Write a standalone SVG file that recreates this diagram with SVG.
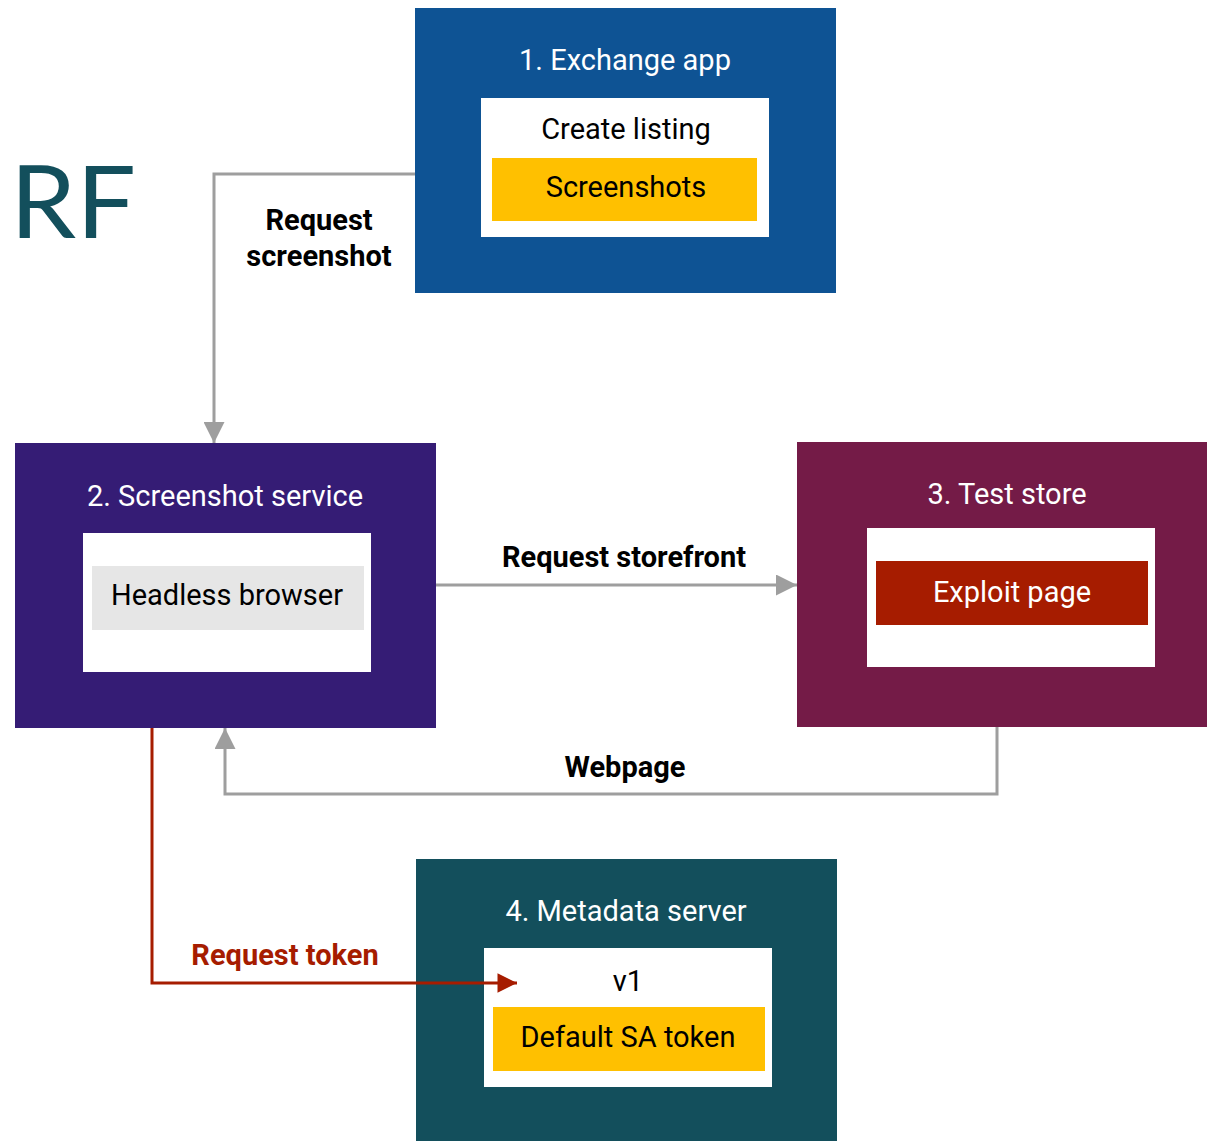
<svg xmlns="http://www.w3.org/2000/svg" width="1207" height="1141" viewBox="0 0 1207 1141">
  <style>
    text { font-family: Roboto, "Liberation Sans", sans-serif; text-anchor: middle; }
    .title { font-size: 29px; fill: #ffffff; }
    .item { font-size: 29px; fill: #000000; }
    .lbl { font-size: 29px; font-weight: bold; fill: #000000; }
    .red-lbl { font-size: 29px; font-weight: bold; fill: #a61c00; }
    .inner { fill: #ffffff; }
    .yellow { fill: #ffc000; }
    .wire { fill: none; stroke: #9e9e9e; stroke-width: 3; }
    .wire-red { fill: none; stroke: #a61c00; stroke-width: 3; }
  </style>
  <defs>
    <marker id="arrow-gray" viewBox="0 0 10 10" refX="10" refY="5" markerWidth="8" markerHeight="7" markerUnits="strokeWidth" orient="auto">
      <path d="M0,0 L10,5 L0,10 Z" fill="#9e9e9e"/>
    </marker>
    <marker id="arrow-red" viewBox="0 0 10 10" refX="10" refY="5" markerWidth="8" markerHeight="6.5" markerUnits="strokeWidth" orient="auto">
      <path d="M0,0 L10,5 L0,10 Z" fill="#a61c00"/>
    </marker>
  </defs>

  <rect width="1207" height="1141" fill="#ffffff"/>

  <!-- Logo letters -->
  <text x="73" y="238" style="font-family: Lato, 'Noto Sans', sans-serif; font-size: 100px; fill: #134f5c;" textLength="126" lengthAdjust="spacingAndGlyphs">RF</text>

  <!-- 1. Exchange app -->
  <g id="exchange-app">
    <rect x="415" y="8" width="421" height="285" fill="#0e5394"/>
    <text class="title" x="625" y="70">1. Exchange app</text>
    <rect class="inner" x="481" y="98" width="288" height="139"/>
    <text class="item" x="626" y="139">Create listing</text>
    <rect class="yellow" x="492" y="158" width="265" height="63"/>
    <text class="item" x="626" y="197">Screenshots</text>
  </g>

  <!-- 2. Screenshot service -->
  <g id="screenshot-service">
    <rect x="15" y="443" width="421" height="285" fill="#351c75"/>
    <text class="title" x="225" y="506">2. Screenshot service</text>
    <rect class="inner" x="83" y="533" width="288" height="139"/>
    <rect x="92" y="566" width="272" height="64" fill="#e6e6e6"/>
    <text class="item" x="227" y="605">Headless browser</text>
  </g>

  <!-- 3. Test store -->
  <g id="test-store">
    <rect x="797" y="442" width="410" height="285" fill="#741b47"/>
    <text class="title" x="1007" y="504">3. Test store</text>
    <rect class="inner" x="867" y="528" width="288" height="139"/>
    <rect x="876" y="561" width="272" height="64" fill="#a61c00"/>
    <text class="title" x="1012" y="602">Exploit page</text>
  </g>

  <!-- 4. Metadata server -->
  <g id="metadata-server">
    <rect x="416" y="859" width="421" height="282" fill="#134f5c"/>
    <text class="title" x="626" y="921">4. Metadata server</text>
    <rect class="inner" x="484" y="948" width="288" height="139"/>
    <text class="item" x="628" y="991">v1</text>
    <rect class="yellow" x="493" y="1007" width="272" height="64"/>
    <text class="item" x="628" y="1047">Default SA token</text>
  </g>

  <!-- Connectors, drawn last so the token request crosses into the metadata box -->
  <g id="connectors">
    <path class="wire" d="M415,174 H214 V443" marker-end="url(#arrow-gray)"/>
    <path class="wire" d="M436,585 H797" marker-end="url(#arrow-gray)"/>
    <path class="wire" d="M997,727 V794 H225 V728" marker-end="url(#arrow-gray)"/>
    <path class="wire-red" d="M152,728 V983 H517" marker-end="url(#arrow-red)"/>
    <text class="lbl" x="319" y="230">Request</text>
    <text class="lbl" x="319" y="266">screenshot</text>
    <text class="lbl" x="624" y="567">Request storefront</text>
    <text class="lbl" x="625" y="777">Webpage</text>
    <text class="red-lbl" x="285" y="965">Request token</text>
  </g>
</svg>
